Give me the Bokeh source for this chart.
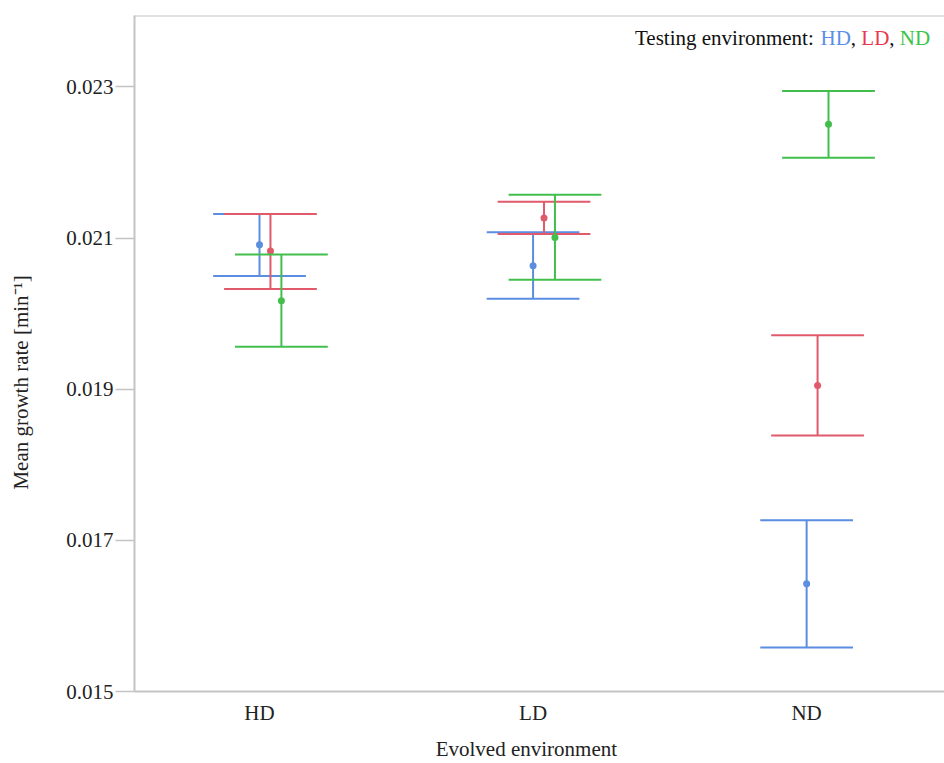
import pandas as pd
from bokeh.plotting import figure
from bokeh.models import ColumnDataSource, Range1d, FixedTicker, Label, Span
from bokeh.embed import file_html
from bokeh.resources import INLINE

# ---- data ----
evolved = ["HD", "LD", "ND"]          # x categories (evolved environment)
testing = ["HD", "LD", "ND"]          # series (testing environment)

mean_test_HD = [0.020913, 0.020634, 0.016426]
lower_test_HD = [0.020497, 0.020197, 0.015583]
upper_test_HD = [0.021318, 0.021079, 0.017265]

mean_test_LD = [0.020828, 0.021265, 0.019049]
lower_test_LD = [0.020325, 0.021053, 0.018387]
upper_test_LD = [0.021318, 0.021482, 0.019715]

mean_test_ND = [0.020171, 0.021009, 0.022506]
lower_test_ND = [0.019562, 0.020449, 0.022065]
upper_test_ND = [0.020784, 0.021575, 0.022947]

y_ticks = [0.015, 0.017, 0.019, 0.021, 0.023]
x_title = "Evolved environment"
y_title = "Mean growth rate [min\u207b\u00b9]"
legend_title = "Testing environment: "

# ---- styling ----
mark_colors = {"HD": "#5B8DE0", "LD": "#E05A6C", "ND": "#42BE4C"}
legend_colors = {"HD": "#5B8FE6", "LD": "#E8384F", "ND": "#3CC44B"}
offsets = {"HD": 0.0, "LD": 0.04, "ND": 0.08}
CAP = 0.339
FONT = "'Liberation Serif', 'Times New Roman', Tinos, serif"
TXT = "#222222"
NBSP = "\u00a0"

X0, X1 = -0.457, 2.504
Y0, Y1 = 0.015, 0.023946
W, H = 944, 763
LEFT, TOP, BOTTOM = 134, 15, 72
FRAME_W = W - LEFT
FRAME_H = H - TOP - BOTTOM

p = figure(width=W, height=H, output_backend="svg", toolbar_location=None,
           x_range=Range1d(X0, X1), y_range=Range1d(Y0, Y1),
           min_border_left=LEFT, min_border_right=0, min_border_top=TOP,
           min_border_bottom=BOTTOM)
p.background_fill_color = "white"
p.border_fill_color = "white"
p.outline_line_color = None
p.xgrid.visible = False
p.ygrid.visible = False

series = {
    "HD": (mean_test_HD, lower_test_HD, upper_test_HD),
    "LD": (mean_test_LD, lower_test_LD, upper_test_LD),
    "ND": (mean_test_ND, lower_test_ND, upper_test_ND),
}
for t in testing:
    m, lo, hi = series[t]
    xs = [i + offsets[t] for i in range(len(evolved))]
    df = pd.DataFrame({"x": xs, "mean": m, "lower": lo, "upper": hi})
    df["xl"] = df["x"] - CAP / 2
    df["xr"] = df["x"] + CAP / 2
    src = ColumnDataSource(df)
    c = mark_colors[t]
    p.segment(x0="x", y0="lower", x1="x", y1="upper", source=src, line_color=c, line_width=2)
    p.segment(x0="xl", y0="upper", x1="xr", y1="upper", source=src, line_color=c, line_width=2)
    p.segment(x0="xl", y0="lower", x1="xr", y1="lower", source=src, line_color=c, line_width=2)
    p.scatter(x="x", y="mean", source=src, size=7, fill_color=c, line_color=None)

# top border
p.add_layout(Span(location=Y1, dimension="width", line_color="#c4c4c4", line_width=2))

# axes
axis_color = "#c4c4c4"
p.xaxis.ticker = FixedTicker(ticks=[0, 1, 2])
p.xaxis.major_label_overrides = {0: evolved[0], 1: evolved[1], 2: evolved[2]}
p.xaxis.major_tick_line_color = None
p.xaxis.minor_tick_line_color = None
p.xaxis.major_tick_out = 0
p.xaxis.major_tick_in = 0
p.xaxis.major_label_standoff = 9
# trailing no-break spaces nudge the centred title slightly left
p.xaxis.axis_label = x_title + NBSP * 5
p.xaxis.axis_label_standoff = 9

p.yaxis.ticker = FixedTicker(ticks=y_ticks)
p.yaxis.major_label_overrides = {v: f"{v:.3f}" for v in y_ticks}
p.yaxis.major_tick_out = 19
p.yaxis.major_tick_in = 0
p.yaxis.minor_tick_line_color = None
p.yaxis.major_tick_line_color = axis_color
p.yaxis.major_tick_line_width = 1.5
p.yaxis.major_label_standoff = 2
# trailing no-break spaces nudge the centred title slightly down
p.yaxis.axis_label = y_title + NBSP * 11
p.yaxis.axis_label_standoff = 30

for ax in (p.xaxis, p.yaxis):
    ax.axis_line_color = axis_color
    ax.axis_line_width = 2
    ax.major_label_text_font = FONT
    ax.major_label_text_font_size = "21px"
    ax.major_label_text_color = TXT
    ax.axis_label_text_font = FONT
    ax.axis_label_text_font_size = "21px"
    ax.axis_label_text_font_style = "normal"
    ax.axis_label_text_color = TXT


def px_x(px):
    return X0 + (px - LEFT) * (X1 - X0) / FRAME_W


def px_y(py):
    return Y1 - (py - TOP) * (Y1 - Y0) / FRAME_H


legend_parts = [
    (legend_title, "#111111", 634.5),
    (testing[0], legend_colors["HD"], 820.0),
    (",", "#111111", 850.3),
    (testing[1], legend_colors["LD"], 860.8),
    (",", "#111111", 888.8),
    (testing[2], legend_colors["ND"], 899.3),
]
for txt, col, px in legend_parts:
    p.add_layout(Label(x=px_x(px), y=px_y(37), text=txt, text_color=col,
                       text_font=FONT, text_font_size="21px",
                       text_align="left", text_baseline="alphabetic"))

open("out.html", "w").write(file_html(p, INLINE))
